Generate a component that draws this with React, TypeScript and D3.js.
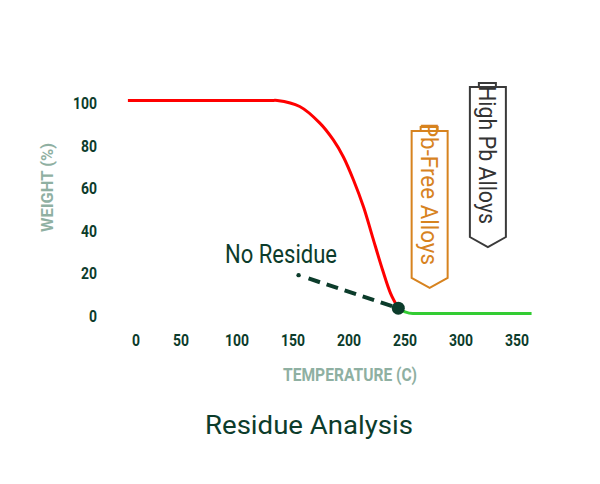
import React from "react";
import * as d3 from "d3";

const xTicks = [0, 50, 100, 150, 200, 250, 300, 350];
const yTicks = [0, 20, 40, 60, 80, 100];

// Weight loss curve (temperature C, weight %)
const redTemp = [-9, 130, 136, 156, 174, 186, 195, 204, 213, 221, 230, 237, 244];
const redWeight = [100, 100, 100, 97.2, 89.4, 81.5, 73.5, 62.7, 50, 36, 20.4, 9.6, 2.5];
const greenTemp = [244, 250, 257, 363];
const greenWeight = [2.5, 0.8, 0, 0];

const noResidueStart = [155, 18];
const noResidueEnd = [244, 2.5];

// Alloy flags: [temperature center, top weight, bottom weight]
const pbFreeFlag = [272, 85.7, 16.7];
const highPbFlag = [324, 106.3, 35.9];

const DARK = "#0c3c2b";
const AXIS_TITLE = "#8fb0a2";
const FONT = "Roboto, 'Noto Sans', sans-serif";

export default function App() {
  const x = d3.scaleLinear().domain([0, 50, 350]).range([136, 181, 517]);
  const y = d3.scaleLinear().domain([0, 100]).range([313.5, 100.5]);

  const redLine = d3
    .line<[number, number]>()
    .x((d) => x(d[0]))
    .y((d) => y(d[1]))
    .curve(d3.curveCatmullRom.alpha(0.5));
  const greenLine = d3
    .line<[number, number]>()
    .x((d) => x(d[0]))
    .y((d) => y(d[1]))
    .curve(d3.curveMonotoneX);

  const redPts = redTemp.map((t, i) => [t, redWeight[i]] as [number, number]);
  const greenPts = greenTemp.map((t, i) => [t, greenWeight[i]] as [number, number]);

  const flag = (f: number[], w: number) => {
    const cx = x(f[0]);
    const top = y(f[1]);
    const bottom = y(f[2]);
    const hw = w / 2;
    return `M${cx - hw},${top} L${cx + hw},${top} L${cx + hw},${bottom} L${cx},${bottom + 10} L${cx - hw},${bottom} Z M${cx - 9},${top} L${cx - 9},${top - 4} L${cx + 8},${top - 4} L${cx + 8},${top}`;
  };

  const sx = x(noResidueStart[0]);
  const sy = y(noResidueStart[1]);
  const ex = x(noResidueEnd[0]);
  const ey = y(noResidueEnd[1]);

  return (
    <svg
      width={600}
      height={484}
      style={{ position: "absolute", left: 0, top: 0, background: "#fff" }}
    >
      {/* y tick labels */}
      {yTicks.map((t) => (
        <text
          key={"y" + t}
          x={97}
          y={y(t) + 2.5}
          textAnchor="end"
          dominantBaseline="central"
          fontFamily={FONT}
          fontWeight="bold"
          fontSize={17}
          fill={DARK}
          textLength={String(t).length * 8}
          lengthAdjust="spacingAndGlyphs"
        >
          {t}
        </text>
      ))}
      {/* x tick labels */}
      {xTicks.map((t) => (
        <text
          key={"x" + t}
          x={x(t) - (String(t).length * 8) / 2}
          y={340}
          dominantBaseline="central"
          fontFamily={FONT}
          fontWeight="bold"
          fontSize={17}
          fill={DARK}
          textLength={String(t).length * 8}
          lengthAdjust="spacingAndGlyphs"
        >
          {t}
        </text>
      ))}
      {/* axis titles */}
      <text
        transform="translate(47,232) rotate(-90)"
        dominantBaseline="central"
        fontFamily={FONT}
        fontWeight="bold"
        fontSize={17}
        fill={AXIS_TITLE}
        textLength={89}
        lengthAdjust="spacingAndGlyphs"
      >
        WEIGHT (%)
      </text>
      <text
        x={283}
        y={374}
        dominantBaseline="central"
        fontFamily={FONT}
        fontWeight="bold"
        fontSize={18}
        fill={AXIS_TITLE}
        textLength={134}
        lengthAdjust="spacingAndGlyphs"
      >
        TEMPERATURE (C)
      </text>

      {/* flags */}
      <path d={flag(pbFreeFlag, 36)} fill="none" stroke="#d7831f" strokeWidth={2} />
      <text
        transform={`translate(${x(pbFreeFlag[0]) - 1},${y(pbFreeFlag[1]) - 8}) rotate(90)`}
        dominantBaseline="central"
        fontFamily={FONT}
        fontSize={24}
        fill="#d7831f"
        textLength={142}
        lengthAdjust="spacingAndGlyphs"
      >
        Pb-Free Alloys
      </text>
      <path d={flag(highPbFlag, 36)} fill="none" stroke="#3a3a3a" strokeWidth={2} />
      <text
        transform={`translate(${x(highPbFlag[0]) - 1},${y(highPbFlag[1]) - 1}) rotate(90)`}
        dominantBaseline="central"
        fontFamily={FONT}
        fontSize={24}
        fill="#333"
        textLength={138}
        lengthAdjust="spacingAndGlyphs"
      >
        High Pb Alloys
      </text>

      {/* curves */}
      <path d={greenLine(greenPts) || ""} fill="none" stroke="#33cc33" strokeWidth={3} />
      <path d={redLine(redPts) || ""} fill="none" stroke="#ff0000" strokeWidth={3} />

      {/* No Residue annotation */}
      <circle cx={sx} cy={sy} r={2.2} fill={DARK} />
      <line
        x1={sx + (ex - sx) * 0.1}
        y1={sy + (ey - sy) * 0.1}
        x2={ex}
        y2={ey}
        stroke={DARK}
        strokeWidth={4}
        strokeDasharray="12 7"
      />
      <circle cx={ex} cy={ey} r={6.5} fill={DARK} />
      <text
        x={225}
        y={263}
        fontFamily={FONT}
        fontSize={25}
        fill={DARK}
        textLength={112}
        lengthAdjust="spacingAndGlyphs"
      >
        No Residue
      </text>

      {/* title */}
      <text
        x={205}
        y={434}
        fontFamily={FONT}
        fontSize={26}
        fill={DARK}
        textLength={208}
        lengthAdjust="spacingAndGlyphs"
      >
        Residue Analysis
      </text>
    </svg>
  );
}
